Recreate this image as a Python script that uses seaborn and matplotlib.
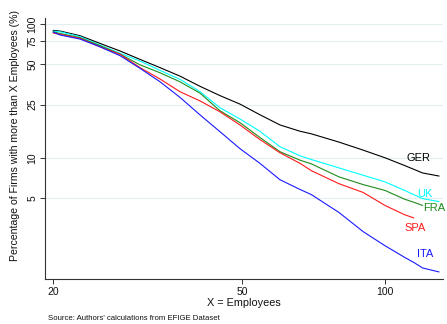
import numpy as np
import pandas as pd
import matplotlib
matplotlib.use("Agg")
import matplotlib.pyplot as plt
import seaborn as sns
from matplotlib.ticker import FixedLocator, FixedFormatter, NullLocator

# ---- data ----
employees = [20, 20.7, 22.8, 25.1, 27.7, 30.5, 33.6, 37.0, 40.8, 44.9, 49.5, 54.5, 60.1, 66.2, 70,
             80, 90, 100, 110, 115, 120, 130]
ger = [89.7, 88.6, 81.8, 71.7, 62.8, 54.4, 47.2, 40.8, 34.2, 29.2, 25.2, 21.0, 17.6, 15.8, 15.1,
       13.1, 11.4, 10.0, 8.75, 8.2, 7.7, 7.3]
uk = [88.5, 87.6, 80.4, 69.7, 60.4, 52.9, 45.0, 38.6, 31.2, 23.7, 19.5, 15.8, 12.1, 10.35, 9.7,
      8.4, 7.4, 6.6, 5.7, 5.3, 4.95, 4.7]
fra = [87.5, 85.0, 79.0, 69.0, 59.5, 49.5, 43.2, 37.0, 30.4, 22.5, 18.3, 14.2, 11.1, 9.6, 9.0,
       7.2, 6.3, 5.7, 4.9, 4.65, 4.4, np.nan]
spa = [85.8, 83.7, 78.2, 67.7, 59.3, 47.2, 38.8, 31.2, 26.6, 22.1, 17.6, 13.7, 10.9, 9.1, 8.0,
       6.4, 5.5, 4.4, 3.75, 3.55, np.nan, np.nan]
ita = [87.1, 82.8, 77.2, 67.6, 57.9, 46.6, 37.0, 28.3, 20.9, 15.7, 11.7, 9.1, 6.85, 5.8, 5.3,
       3.9, 2.8, 2.2, 1.8, 1.65, 1.5, 1.4]
countries = ["GER", "UK", "FRA", "SPA", "ITA"]
colors = ["#000000", "#00ffff", "#1e8c1e", "#ff1a1a", "#1a1aff"]
x_ticks = [20, 50, 100]
y_ticks = [5, 10, 25, 50, 75, 100]

series = dict(zip(countries, [ger, uk, fra, spa, ita]))
df = pd.concat(
    [pd.DataFrame({"Employees": employees, "Share": vals, "Country": c}) for c, vals in series.items()],
    ignore_index=True,
).dropna()

sns.set_theme(style="white")
plt.rcParams["font.family"] = ["Liberation Sans", "DejaVu Sans"]

W, H = 447, 324
fig = plt.figure(figsize=(W / 100, H / 100), dpi=100)
ax = fig.add_axes([45 / W, 1 - 279 / H, (443 - 45) / W, (279 - 18) / H])

sns.lineplot(data=df, x="Employees", y="Share", hue="Country", hue_order=countries,
             palette=colors, linewidth=0.8, legend=False, ax=ax, sort=True)

ax.set_xscale("log")
ax.set_yscale("log")
ax.set_xlim(19.23, 132.5)
ax.set_ylim(1.24, 111)

ax.xaxis.set_major_locator(FixedLocator(x_ticks))
ax.xaxis.set_major_formatter(FixedFormatter([str(t) for t in x_ticks]))
ax.xaxis.set_minor_locator(NullLocator())
ax.yaxis.set_major_locator(FixedLocator(y_ticks))
ax.yaxis.set_major_formatter(FixedFormatter([str(t) for t in y_ticks]))
ax.yaxis.set_minor_locator(NullLocator())

ax.grid(axis="y", color="#e4eef0", linewidth=0.8)
ax.grid(axis="x", visible=False)
ax.set_axisbelow(True)

for s in ["top", "right"]:
    ax.spines[s].set_visible(False)
for s in ["left", "bottom"]:
    ax.spines[s].set_color("#333333")
    ax.spines[s].set_linewidth(0.8)

ax.tick_params(axis="both", which="major", direction="out", length=3.5, width=0.7,
               color="#333333", labelsize=7.5, labelcolor="#111111", left=True, bottom=True, pad=2)
for lbl in ax.get_yticklabels():
    lbl.set_rotation(90)
    lbl.set_va("center")

ax.set_xlabel("X = Employees", fontsize=7.8, labelpad=1, color="#111111")
ax.set_ylabel("Percentage of Firms with more than X Employees (%)", fontsize=7.6, color="#111111")
ax.yaxis.set_label_coords(-0.063, 0.548)

# series labels, placed relative to the last point of each line
offsets = {"GER": (-21, 18), "UK": (-14, 8), "FRA": (12, -3), "SPA": (1, -10), "ITA": (-14, 18)}
for c, col in zip(countries, colors):
    sub = df[df["Country"] == c]
    xe, ye = sub["Employees"].iloc[-1], sub["Share"].iloc[-1]
    dx, dy = offsets[c]
    ax.annotate(c, (xe, ye), xytext=(dx * 0.72, dy * 0.72), textcoords="offset points",
                ha="center", va="center", fontsize=8, color=col, annotation_clip=False)

fig.text(48 / W, 1 - 318 / H, "Source: Authors' calculations from EFIGE Dataset",
         fontsize=5.6, color="#111111", ha="left", va="center")

fig.savefig("out.png", dpi=100, facecolor="white")
